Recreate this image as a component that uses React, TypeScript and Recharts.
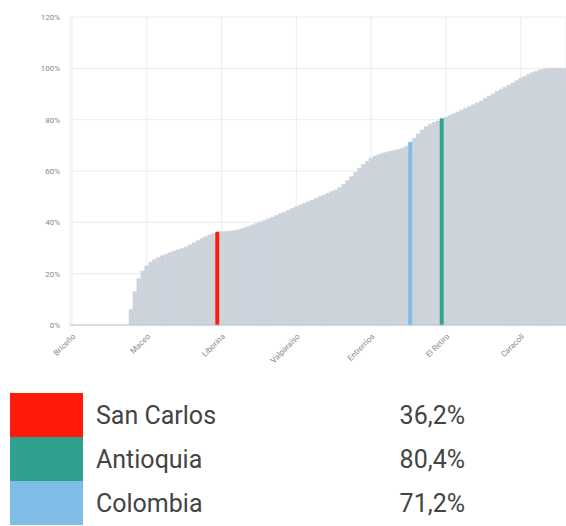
import { BarChart, Bar, XAxis, YAxis, CartesianGrid, Cell } from "recharts";

const municipios = [
  "Briceño", "Murindó", "Vigía del Fuerte", "Peque", "Ituango", "Dabeiba", "Uramita", "Frontino",
  "Cáceres", "Tarazá", "Nechí", "Anorí", "Mutatá", "Abriaquí", "Argelia", "Nariño",
  "Sabanalarga", "Buriticá", "Toledo", "Maceo", "Valdivia", "Zaragoza", "Remedios", "Segovia",
  "El Bagre", "Yondó", "Caicedo", "Giraldo", "Cañasgordas", "Heliconia", "Olaya", "Anzá",
  "Betulia", "San Francisco", "Cocorná", "San Luis", "Granada", "San Carlos", "Liborina", "San Rafael",
  "Alejandría", "Concepción", "Guadalupe", "Campamento", "Angostura", "Yalí", "Vegachí", "Amalfi",
  "San Roque", "Santo Domingo", "Cisneros", "Yolombó", "Gómez Plata", "Carolina del Príncipe", "Belmira", "San Andrés de Cuerquia",
  "San José de la Montaña", "Valparaíso", "Caramanta", "Támesis", "Jericó", "Tarso", "Pueblorrico", "Salgar",
  "Betania", "Hispania", "Concordia", "Urrao", "Ciudad Bolívar", "Andes", "Jardín", "Montebello",
  "Abejorral", "Sonsón", "Santa Rosa de Osos", "Nariño Sur", "Entrerríos", "Donmatías", "San Pedro de los Milagros", "Yarumal",
  "Ebéjico", "Sopetrán", "San Jerónimo", "Santa Fe de Antioquia", "Armenia", "Titiribí", "Colombia", "Angelópolis",
  "Amagá", "Fredonia", "Venecia", "Santa Bárbara", "La Pintada", "Guatapé", "Antioquia", "El Retiro",
  "El Peñol", "San Vicente", "Marinilla", "El Santuario", "La Unión", "El Carmen de Viboral", "La Ceja", "Guarne",
  "Rionegro", "Puerto Triunfo", "Puerto Nare", "Puerto Berrío", "Apartadó", "San Juan de Urabá", "Arboletes", "San Pedro de Urabá",
  "Necoclí", "Turbo", "Caracolí", "Carepa", "Chigorodó", "Caucasia", "Barbosa", "Girardota",
  "Copacabana", "Bello", "Caldas", "La Estrella", "Itagüí", "Sabaneta",
];

const cobertura = [
  0, 0, 0, 0, 0, 0, 0, 0, 0, 0, 0, 0, 0, 0, 0, 6,
  13, 18, 21, 23, 24.5, 25.5, 26.3, 27, 27.6, 28.2, 28.8, 29.3, 29.8, 30.4, 31.2, 32,
  32.8, 33.6, 34.4, 35.1, 35.7, 36.2, 36.3, 36.4, 36.5, 36.7, 37, 37.4, 37.9, 38.4, 39, 39.6,
  40.2, 40.8, 41.4, 42, 42.7, 43.4, 44, 44.7, 45.4, 46, 46.7, 47.4, 48, 48.6, 49.3, 50,
  50.6, 51.3, 52, 52.6, 53.5, 54.8, 56.2, 57.8, 59.4, 61, 62.5, 63.8, 65, 65.8, 66.4, 66.9,
  67.3, 67.7, 68, 68.4, 68.9, 69.6, 71.2, 72.8, 74.5, 76, 77.3, 78.2, 78.9, 79.5, 80.4, 80.9,
  81.6, 82.3, 83, 83.7, 84.4, 85.1, 85.8, 86.5, 87.3, 88.2, 89.1, 90, 91, 91.8, 92.6, 93.4,
  94.3, 95.2, 96, 96.8, 97.6, 98.3, 98.9, 99.4, 99.8, 100, 100, 100, 100, 100,
];

const yTicks = [0, 20, 40, 60, 80, 100, 120];

const destacados = [
  { nombre: "San Carlos", valor: "36,2%", color: "#ff1a0a" },
  { nombre: "Antioquia", valor: "80,4%", color: "#2fa18e" },
  { nombre: "Colombia", valor: "71,2%", color: "#7ebde6" },
];

const data = municipios.map((m, i) => ({ name: m, value: cobertura[i] }));

const colorFor = (name: string) => {
  const d = destacados.find((x) => x.nombre === name);
  return d ? d.color : "#cdd3db";
};

export default function App() {
  return (
    <div
      style={{
        position: "absolute",
        left: 0,
        top: 0,
        width: 566,
        height: 526,
        background: "#fff",
        fontFamily: "Roboto, sans-serif",
        overflow: "hidden",
      }}
    >
      <BarChart
        width={566}
        height={385}
        data={data}
        margin={{ top: 17, right: 0, left: 0, bottom: 0 }}
        barCategoryGap={0}
      >
        <CartesianGrid stroke="#ececec" />
        <XAxis
          dataKey="name"
          interval={18}
          height={60}
          angle={-45}
          textAnchor="end"
          tick={{ fontSize: 8, fill: "#888" }}
          tickLine={false}
          stroke="#bfc4ca"
        />
        <YAxis
          width={70}
          domain={[0, 120]}
          ticks={yTicks}
          tickFormatter={(v) => `${v}%`}
          tick={{ fontSize: 8, fill: "#888" }}
          axisLine={false}
          tickLine={false}
          tickMargin={4}
        />
        <Bar dataKey="value" isAnimationActive={false}>
          {data.map((d) => (
            <Cell key={d.name} fill={colorFor(d.name)} stroke={colorFor(d.name)} strokeWidth={0.6} />
          ))}
        </Bar>
      </BarChart>
      {destacados.map((d, i) => (
        <div
          key={d.nombre}
          style={{
            position: "absolute",
            left: 10,
            top: 393 + i * 44,
            width: 460,
            height: 44,
            display: "flex",
            alignItems: "center",
          }}
        >
          <div style={{ width: 73, height: 44, background: d.color }} />
          <div style={{ marginLeft: 13, fontSize: 25, color: "#444", flex: 1 }}>{d.nombre}</div>
          <div style={{ fontSize: 25, color: "#444", width: 120, textAlign: "right", marginRight: 5 }}>{d.valor}</div>
        </div>
      ))}
    </div>
  );
}
